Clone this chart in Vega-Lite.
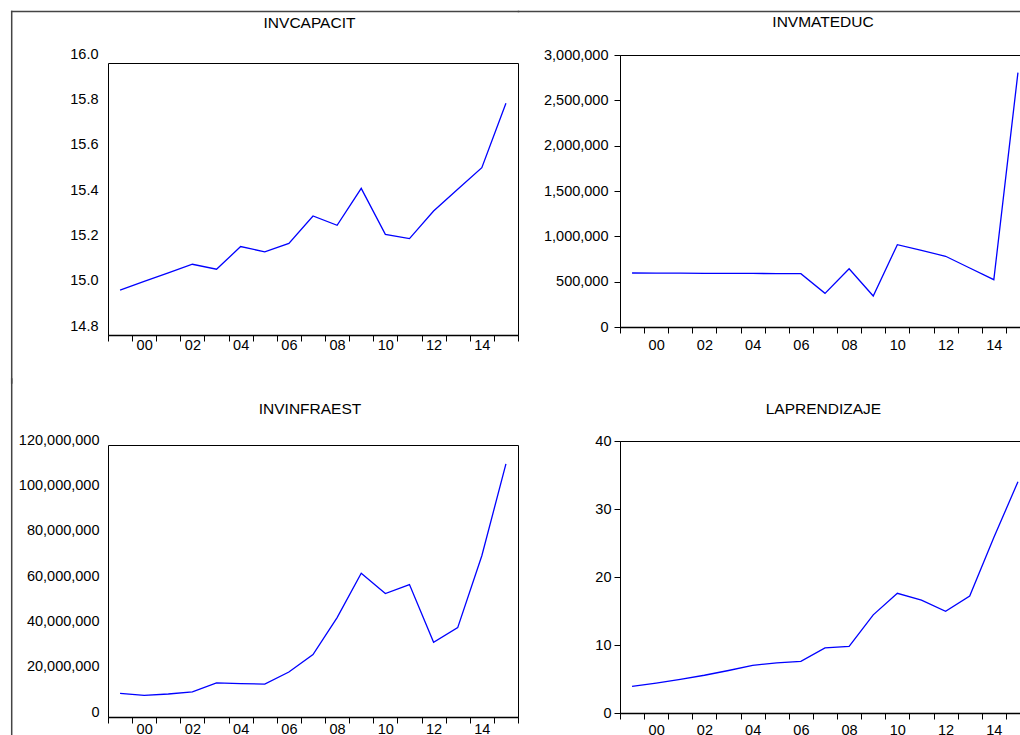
{
  "$schema": "https://vega.github.io/schema/vega-lite/v6.json",
  "padding": {"left": 10, "top": -40, "right": 0, "bottom": 0},
  "background": "white",
  "datasets": {
    "d": [
      {"year": 1999, "INVCAPACIT": 14.954, "INVMATEDUC": 595600, "INVINFRAEST": 7820000, "LAPRENDIZAJE": 3.92},
      {"year": 2000, "INVCAPACIT": 14.992, "INVMATEDUC": 594500, "INVINFRAEST": 6930000, "LAPRENDIZAJE": 4.4},
      {"year": 2001, "INVCAPACIT": 15.030, "INVMATEDUC": 593500, "INVINFRAEST": 7500000, "LAPRENDIZAJE": 4.95},
      {"year": 2002, "INVCAPACIT": 15.068, "INVMATEDUC": 592500, "INVINFRAEST": 8400000, "LAPRENDIZAJE": 5.55},
      {"year": 2003, "INVCAPACIT": 15.046, "INVMATEDUC": 591500, "INVINFRAEST": 12400000, "LAPRENDIZAJE": 6.25},
      {"year": 2004, "INVCAPACIT": 15.146, "INVMATEDUC": 590500, "INVINFRAEST": 12100000, "LAPRENDIZAJE": 7.01},
      {"year": 2005, "INVCAPACIT": 15.123, "INVMATEDUC": 589500, "INVINFRAEST": 11900000, "LAPRENDIZAJE": 7.36},
      {"year": 2006, "INVCAPACIT": 15.160, "INVMATEDUC": 588000, "INVINFRAEST": 17200000, "LAPRENDIZAJE": 7.6},
      {"year": 2007, "INVCAPACIT": 15.281, "INVMATEDUC": 371000, "INVINFRAEST": 24900000, "LAPRENDIZAJE": 9.57},
      {"year": 2008, "INVCAPACIT": 15.240, "INVMATEDUC": 643000, "INVINFRAEST": 41200000, "LAPRENDIZAJE": 9.81},
      {"year": 2009, "INVCAPACIT": 15.403, "INVMATEDUC": 342000, "INVINFRAEST": 60800000, "LAPRENDIZAJE": 14.43},
      {"year": 2010, "INVCAPACIT": 15.200, "INVMATEDUC": 908000, "INVINFRAEST": 51800000, "LAPRENDIZAJE": 17.6},
      {"year": 2011, "INVCAPACIT": 15.181, "INVMATEDUC": 846000, "INVINFRAEST": 55800000, "LAPRENDIZAJE": 16.6},
      {"year": 2012, "INVCAPACIT": 15.303, "INVMATEDUC": 780000, "INVINFRAEST": 30300000, "LAPRENDIZAJE": 14.96},
      {"year": 2013, "INVCAPACIT": 15.399, "INVMATEDUC": 651000, "INVINFRAEST": 36800000, "LAPRENDIZAJE": 17.2},
      {"year": 2014, "INVCAPACIT": 15.494, "INVMATEDUC": 522000, "INVINFRAEST": 68500000, "LAPRENDIZAJE": 25.8},
      {"year": 2015, "INVCAPACIT": 15.778, "INVMATEDUC": 2805000, "INVINFRAEST": 109000000, "LAPRENDIZAJE": 34.0}
    ]
  },
  "config": {
    "font": "Liberation Sans",
    "view": {"stroke": "black", "strokeWidth": 1},
    "title": {"font": "Liberation Sans", "fontSize": 15.5, "fontWeight": "normal", "color": "black", "frame": "group", "baseline": "alphabetic", "anchor": "middle"},
    "axis": {"labelFont": "Liberation Sans", "labelFontSize": 14.5, "labelColor": "black", "tickColor": "black", "domainColor": "black", "grid": false, "title": null, "labelOverlap": false, "labelFlush": false, "labelBound": false}
  },
  "spacing": -15,
  "hconcat": [
    {
      "spacing": -8,
      "vconcat": [
        {"width": 410, "height": 57, "data": {"values": []}, "mark": "point", "view": {"stroke": null}},
        {
          "width": 410, "height": 272,
          "title": {"text": "INVCAPACIT", "offset": -21.5, "dx": -3.5},
          "data": {"name": "d"},
          "layer": [
            {
              "mark": {"type": "line", "color": "#0000ff", "strokeWidth": 1.3},
              "encoding": {
                "x": {"field": "year", "type": "quantitative",
                  "scale": {"domain": [1998.5, 2015.5], "nice": false, "zero": false},
                  "axis": {"values": [1998.5,1999.5,2000.5,2001.5,2002.5,2003.5,2004.5,2005.5,2006.5,2007.5,2008.5,2009.5,2010.5,2011.5,2012.5,2013.5,2014.5,2015.5],
                    "tickCount": 20,
                    "labelExpr": "(datum.value + 0.5) % 2 == 0 && datum.value < 2015 ? slice(toString(datum.value + 0.5), 2) : ''",
                    "labelOffset": 12.06, "tickSize": 6, "domain": true, "domainWidth": 1.5, "labelPadding": -3}},
                "y": {"field": "INVCAPACIT", "type": "quantitative",
                  "scale": {"domain": [14.7559, 15.9559], "nice": false, "zero": false},
                  "axis": {"values": [14.7559, 14.9559, 15.1559, 15.3559, 15.5559, 15.7559, 15.9559],
                    "labelExpr": "format(datum.value + 0.0441, '.1f')",
                    "labelOffset": -9, "ticks": false, "domain": false, "labelPadding": 10}}
              }
            },
            {
              "data": {"values": [{}]},
              "mark": {"type": "rule", "color": "#444444", "strokeWidth": 1.5, "strokeCap": "square"},
              "encoding": {
                "x": {"datum": 1994.5071, "type": "quantitative", "scale": {"domain": [1998.5, 2015.5], "nice": false, "zero": false}},
                "x2": {"datum": 2015.5207},
                "y": {"datum": 16.1831, "type": "quantitative", "scale": {"domain": [14.7559, 15.9559], "nice": false, "zero": false}}
              }
            },
            {
              "data": {"values": [{}]},
              "mark": {"type": "rule", "color": "#444444", "strokeWidth": 1.5, "strokeCap": "square"},
              "encoding": {
                "x": {"datum": 1994.5071, "type": "quantitative", "scale": {"domain": [1998.5, 2015.5], "nice": false, "zero": false}},
                "y": {"datum": 16.1831, "type": "quantitative", "scale": {"domain": [14.7559, 15.9559], "nice": false, "zero": false}},
                "y2": {"datum": 14.5442}
              }
            }
          ]
        },
        {
          "width": 410, "height": 272,
          "title": {"text": "INVINFRAEST", "offset": -39.1, "dx": -3},
          "data": {"name": "d"},
          "layer": [
            {
              "mark": {"type": "line", "color": "#0000ff", "strokeWidth": 1.3},
              "encoding": {
                "x": {"field": "year", "type": "quantitative",
                  "scale": {"domain": [1998.5, 2015.5], "nice": false, "zero": false},
                  "axis": {"values": [1998.5,1999.5,2000.5,2001.5,2002.5,2003.5,2004.5,2005.5,2006.5,2007.5,2008.5,2009.5,2010.5,2011.5,2012.5,2013.5,2014.5,2015.5],
                    "tickCount": 20,
                    "labelExpr": "(datum.value + 0.5) % 2 == 0 && datum.value < 2015 ? slice(toString(datum.value + 0.5), 2) : ''",
                    "labelOffset": 12.06, "tickSize": 6, "domain": true, "domainWidth": 1.5, "labelPadding": -0.5}},
                "y": {"field": "INVINFRAEST", "type": "quantitative",
                  "scale": {"domain": [-2647000, 117353000], "nice": false, "zero": false},
                  "axis": {"values": [-2647000, 17353000, 37353000, 57353000, 77353000, 97353000, 117353000],
                    "labelExpr": "format(datum.value + 2647000, ',d')",
                    "labelOffset": -5, "ticks": false, "domain": false, "labelPadding": 9}}
              }
            },
            {
              "data": {"values": [{}]},
              "mark": {"type": "rule", "color": "#444444", "strokeWidth": 1.5, "strokeCap": "square"},
              "encoding": {
                "x": {"datum": 1994.5071, "type": "quantitative", "scale": {"domain": [1998.5, 2015.5], "nice": false, "zero": false}},
                "y": {"datum": 146470649, "type": "quantitative", "scale": {"domain": [-2647000, 117353000], "nice": false, "zero": false}},
                "y2": {"datum": -20294060}
              }
            }
          ]
        }
      ]
    },
    {
      "spacing": 48,
      "vconcat": [
        {"width": 410, "height": 1, "data": {"values": []}, "mark": "point", "view": {"stroke": null}},
        {
          "width": 410, "height": 272,
          "title": {"text": "INVMATEDUC", "offset": -19.8, "dx": -2},
          "data": {"name": "d"},
          "layer": [
            {
              "mark": {"type": "line", "color": "#0000ff", "strokeWidth": 1.3},
              "encoding": {
                "x": {"field": "year", "type": "quantitative",
                  "scale": {"domain": [1998.5, 2015.5], "nice": false, "zero": false},
                  "axis": {"values": [1998.5,1999.5,2000.5,2001.5,2002.5,2003.5,2004.5,2005.5,2006.5,2007.5,2008.5,2009.5,2010.5,2011.5,2012.5,2013.5,2014.5,2015.5],
                    "tickCount": 20,
                    "labelExpr": "(datum.value + 0.5) % 2 == 0 && datum.value < 2015 ? slice(toString(datum.value + 0.5), 2) : ''",
                    "labelOffset": 12.06, "tickSize": 6, "domain": true, "domainWidth": 1.5, "labelPadding": 5.5}},
                "y": {"field": "INVMATEDUC", "type": "quantitative",
                  "scale": {"domain": [0, 3000000], "nice": false, "zero": false},
                  "axis": {"values": [0, 500000, 1000000, 1500000, 2000000, 2500000, 3000000],
                    "format": ",d", "tickSize": 6, "domain": true, "labelPadding": 6}}
              }
            },
            {
              "data": {"values": [{}]},
              "mark": {"type": "rule", "color": "#444444", "strokeWidth": 1.5, "strokeCap": "square"},
              "encoding": {
                "x": {"datum": 1994.2915, "type": "quantitative", "scale": {"domain": [1998.5, 2015.5], "nice": false, "zero": false}},
                "x2": {"datum": 2015.914},
                "y": {"datum": 3479779, "type": "quantitative", "scale": {"domain": [0, 3000000], "nice": false, "zero": false}}
              }
            }
          ]
        },
        {
          "width": 410, "height": 272,
          "title": {"text": "LAPRENDIZAJE", "offset": 15.2, "dx": -1.6},
          "data": {"name": "d"},
          "mark": {"type": "line", "color": "#0000ff", "strokeWidth": 1.3},
          "encoding": {
            "x": {"field": "year", "type": "quantitative",
              "scale": {"domain": [1998.5, 2015.5], "nice": false, "zero": false},
              "axis": {"values": [1998.5,1999.5,2000.5,2001.5,2002.5,2003.5,2004.5,2005.5,2006.5,2007.5,2008.5,2009.5,2010.5,2011.5,2012.5,2013.5,2014.5,2015.5],
                "tickCount": 20,
                "labelExpr": "(datum.value + 0.5) % 2 == 0 && datum.value < 2015 ? slice(toString(datum.value + 0.5), 2) : ''",
                "labelOffset": 12.06, "tickSize": 6, "domain": true, "domainWidth": 1.5, "labelPadding": 4}},
            "y": {"field": "LAPRENDIZAJE", "type": "quantitative",
              "scale": {"domain": [0, 40], "nice": false, "zero": false},
              "axis": {"values": [0, 10, 20, 30, 40], "format": "d", "tickSize": 6, "domain": true, "labelPadding": 3}}
          }
        }
      ]
    }
  ]
}
